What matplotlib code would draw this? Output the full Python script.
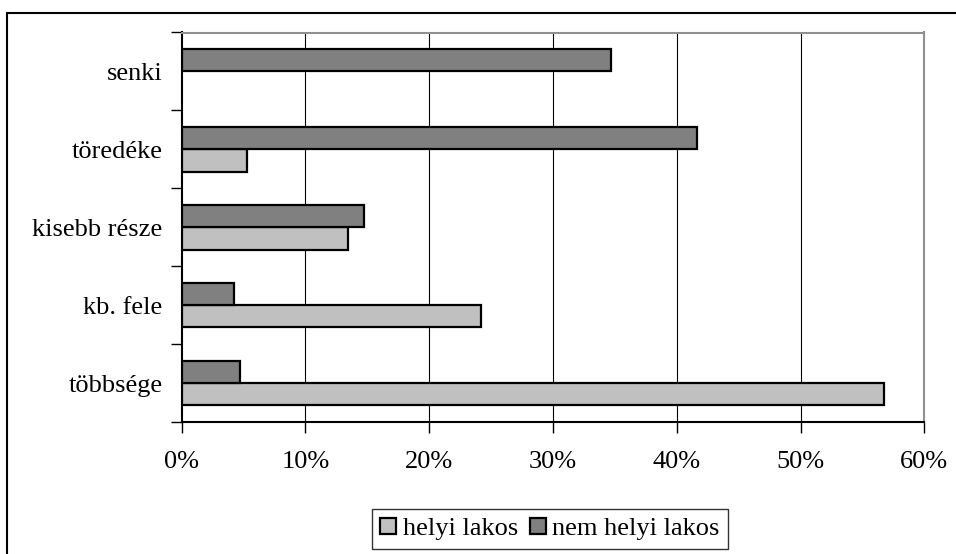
import matplotlib
matplotlib.use("Agg")
import matplotlib.pyplot as plt
from matplotlib.patches import Rectangle
import numpy as np

plt.rcParams['font.family'] = ['Liberation Serif', 'DejaVu Serif']

# Data (bottom to top)
categories = ["többsége", "kb. fele", "kisebb része", "töredéke", "senki"]
helyi_lakos = [56.7, 24.2, 13.4, 5.3, 0.0]
nem_helyi_lakos = [4.7, 4.2, 14.7, 41.6, 34.7]
series_names = ["helyi lakos", "nem helyi lakos"]
x_ticks = [0, 10, 20, 30, 40, 50, 60]
x_tick_labels = ["0%", "10%", "20%", "30%", "40%", "50%", "60%"]

FS = 19

fig = plt.figure(figsize=(9.56, 5.54), dpi=100)
W, H = 956, 554

# outer frame
fig.patches.append(Rectangle((7 / W, -0.1), 1.2, 1 - 12.7 / H + 0.1,
                             transform=fig.transFigure, fill=False,
                             edgecolor='black', linewidth=1.5))

ax = fig.add_axes([181.7 / W, 1 - 422 / H, (924.4 - 181.7) / W, (422 - 32.5) / H])

y = np.arange(len(categories))
h = 0.286
b1 = ax.barh(y - h / 2, helyi_lakos, height=h, color='#C0C0C0',
             edgecolor='black', linewidth=1.6, label=series_names[0], zorder=3)
b2 = ax.barh(y + h / 2, nem_helyi_lakos, height=h, color='#808080',
             edgecolor='black', linewidth=1.6, label=series_names[1], zorder=3)
for bars in (b1, b2):
    for p in bars.patches:
        if p.get_width() == 0:
            p.set_visible(False)

ax.set_xlim(0, 60)
ax.set_ylim(-0.5, len(categories) - 0.5)
ax.set_xticks(x_ticks)
ax.set_xticklabels(x_tick_labels, fontsize=FS)
ax.set_yticks(y)
ax.set_yticklabels(categories, fontsize=FS)
ax.tick_params(axis='y', which='major', length=0, pad=13.7)
ax.set_yticks(np.arange(-0.5, len(categories), 1.0), minor=True)
ax.tick_params(axis='y', which='minor', length=8, width=1, direction='out')
ax.tick_params(axis='x', which='major', length=8, width=1, direction='out', pad=13)

for xv in x_ticks[1:-1]:
    ax.axvline(xv, color='black', linewidth=0.8, zorder=1)

for s in ['top', 'right']:
    ax.spines[s].set_color('#909090')
    ax.spines[s].set_linewidth(1.5)
for s in ['left', 'bottom']:
    ax.spines[s].set_color('black')
    ax.spines[s].set_linewidth(1.5)

leg = fig.legend(handles=[b1, b2], labels=series_names, loc='center',
                 bbox_to_anchor=(550 / W, 1 - 529 / H), ncol=2, fontsize=FS,
                 frameon=True, fancybox=False, edgecolor='black',
                 borderpad=0.32, handletextpad=0.25, columnspacing=0.45,
                 handlelength=0.6, handleheight=0.6, borderaxespad=0)
leg.get_frame().set_linewidth(1.0)

fig.savefig("out.png", dpi=100)
